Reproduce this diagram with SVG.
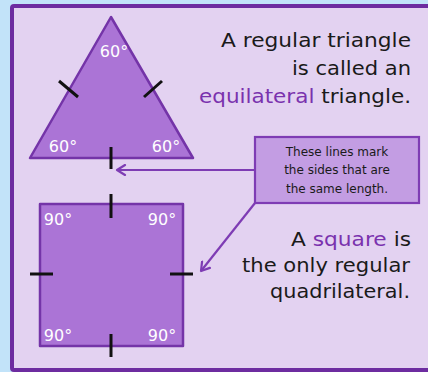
<svg xmlns="http://www.w3.org/2000/svg" width="428" height="372" viewBox="0 0 428 372">
<defs>
<style>
.shape{fill:#ab74d6;stroke:#7434a8;stroke-width:2.5;stroke-linejoin:round}
.tick{stroke:#111;stroke-width:3;stroke-linecap:butt}
.ang{font-family:"DejaVu Sans",sans-serif;font-size:16px;fill:#fff;text-anchor:middle}
.main{font-family:"DejaVu Sans",sans-serif;font-size:20px;fill:#1a1a1a;text-anchor:end}
.hl{fill:#7a32ae}
.note{font-family:"DejaVu Sans",sans-serif;font-size:12px;fill:#1a1a1a;text-anchor:middle}
.conn{stroke:#7e3cb4;stroke-width:2.2;fill:none}
</style>
<marker id="arr" markerWidth="12" markerHeight="12" refX="10" refY="6" orient="auto" markerUnits="userSpaceOnUse">
<path d="M2,1 L10,6 L2,11" fill="none" stroke="#7e3cb4" stroke-width="2.2" stroke-linecap="round" stroke-linejoin="round"/>
</marker>
</defs>
<rect x="0" y="0" width="428" height="372" fill="#c2e3f9"/>
<g id="frame">
<rect x="12" y="6" width="430" height="364" rx="2" fill="#e3d2f1" stroke="#6d2ca0" stroke-width="4"/>
</g>
<g id="triangle">
<polygon class="shape" points="111,17 30,158 193,158"/>
<line class="tick" x1="59" y1="81" x2="78" y2="97"/>
<line class="tick" x1="144" y1="97" x2="162" y2="81"/>
<line class="tick" x1="111" y1="147" x2="111" y2="169"/>
<text class="ang" x="114" y="57">60°</text>
<text class="ang" x="63" y="152">60°</text>
<text class="ang" x="166" y="152">60°</text>
</g>
<g id="square">
<rect class="shape" x="40" y="204" width="143" height="142"/>
<line class="tick" x1="111" y1="194" x2="111" y2="218"/>
<line class="tick" x1="111" y1="334" x2="111" y2="357"/>
<line class="tick" x1="30" y1="274" x2="53" y2="274"/>
<line class="tick" x1="170" y1="274" x2="193" y2="274"/>
<text class="ang" x="58" y="225">90°</text>
<text class="ang" x="162" y="225">90°</text>
<text class="ang" x="58" y="341">90°</text>
<text class="ang" x="162" y="341">90°</text>
</g>
<g id="connectors">
<line class="conn" x1="255" y1="170" x2="117" y2="170" marker-end="url(#arr)"/>
<line class="conn" x1="255" y1="203" x2="201" y2="271" marker-end="url(#arr)"/>
</g>
<g id="callout">
<rect x="255" y="137" width="164" height="66" fill="#c39de3" stroke="#7e3cb4" stroke-width="2.2"/>
<text class="note" x="337" y="156">These lines mark</text>
<text class="note" x="337" y="174">the sides that are</text>
<text class="note" x="337" y="193">the same length.</text>
</g>
<g id="triangle-text">
<text class="main" x="411" y="47" textLength="190" lengthAdjust="spacingAndGlyphs">A regular triangle</text>
<text class="main" x="411" y="75" textLength="119" lengthAdjust="spacingAndGlyphs">is called an</text>
<text class="main" x="411" y="103" textLength="212" lengthAdjust="spacingAndGlyphs"><tspan class="hl">equilateral</tspan> triangle.</text>
</g>
<g id="square-text">
<text class="main" x="411" y="246" textLength="120" lengthAdjust="spacingAndGlyphs">A <tspan class="hl">square</tspan> is</text>
<text class="main" x="410" y="272" textLength="168" lengthAdjust="spacingAndGlyphs">the only regular</text>
<text class="main" x="410" y="298" textLength="140" lengthAdjust="spacingAndGlyphs">quadrilateral.</text>
</g>
</svg>
